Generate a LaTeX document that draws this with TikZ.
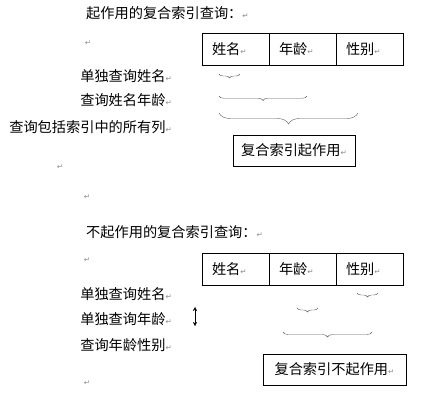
\documentclass[tikz,border=0pt]{standalone}
\usepackage{fontspec}
\newfontfamily\cjk{Noto Sans CJK SC}
\newfontfamily\symfont{DejaVu Sans}
\usetikzlibrary{positioning,decorations.pathreplacing,arrows.meta}
\newcommand\ret{{\symfont\fontsize{7.5}{7.5}\selectfont\color{black!45}↵}}

\begin{document}
\begin{tikzpicture}[x=1pt,y=-1pt,
  font=\cjk\fontsize{14.2}{16}\selectfont,
  node distance=0pt,
  cell/.style={draw,outer sep=0pt,minimum height=32pt,text width=47pt,inner xsep=10pt,align=left},
  result/.style={draw,outer sep=0pt,minimum height=31pt,inner xsep=0pt},
  qry/.style={anchor=east,inner sep=0pt},
  retmark/.style={inner sep=0pt},
  brc/.style={decorate,decoration={brace,mirror,amplitude=#1},draw=black!65}
  ]
   \useasboundingbox (0,0) rectangle (436,393);

   % upper part
   \node (t1) [anchor=west,inner sep=0pt] at (86,13) {起作用的复合索引查询：\ret};
   \node (r1) [retmark] at (88,43) {\ret};
   \node (name1) [cell,anchor=north west] at (202,33) {姓名\ret};
   \node (age1) [cell,right=of name1] {年龄\ret};
   \node (sex1) [cell,right=of age1] {性别\ret};

   \node (q11) [qry] at (172,76) {单独查询姓名\ret};
   \node (q12) [qry] at (172,100) {查询姓名年龄\ret};
   \node (q13) [qry] at (172,127) {查询包括索引中的所有列\ret};

   \coordinate (a1) at (219,74);  \coordinate (b1) at (240,74);
   \coordinate (a2) at (219,96);  \coordinate (b2) at (307,96);
   \coordinate (a3) at (219,113); \coordinate (b3) at (358,113);
   \draw [brc=4pt] (a1) -- (b1);
   \draw [brc=4.5pt] (a2) -- (b2);
   \draw [brc=11pt] (a3) -- (b3);

   \node (ok) [result,minimum width=122pt] at (294,150.5) {复合索引起作用\ret};
   \node (r2) [retmark] at (60,167) {\ret};
   \node (r3) [retmark] at (87,197) {\ret};

   % lower part
   \node (t2) [anchor=west,inner sep=0pt] at (86,232) {不起作用的复合索引查询：\ret};
   \node (r4) [retmark] at (87,260) {\ret};
   \node (name2) [cell,anchor=north west] at (202,253) {姓名\ret};
   \node (age2) [cell,right=of name2] {年龄\ret};
   \node (sex2) [cell,right=of age2] {性别\ret};

   \node (q21) [qry] at (172,294) {单独查询姓名\ret};
   \node (q22) [qry] at (172,319) {单独查询年龄\ret};
   \node (q23) [qry] at (172,345) {查询年龄性别\ret};

   \coordinate (up) at (195,307); \coordinate (dn) at (195,326);
   \draw [{Stealth[length=4pt,width=4pt]}-{Stealth[length=4pt,width=4pt]}] (up) -- (dn);

   \coordinate (c1) at (357,293); \coordinate (d1) at (378,293);
   \coordinate (c2) at (297,308); \coordinate (d2) at (318,308);
   \coordinate (c3) at (283,332); \coordinate (d3) at (372,332);
   \draw [brc=4pt] (c1) -- (d1);
   \draw [brc=4pt] (c2) -- (d2);
   \draw [brc=5pt] (c3) -- (d3);

   \node (bad) [result,minimum width=143pt] at (334.5,369.5) {复合索引不起作用\ret};
   \node (r5) [retmark] at (87,383) {\ret};

\end{tikzpicture}
\end{document}
